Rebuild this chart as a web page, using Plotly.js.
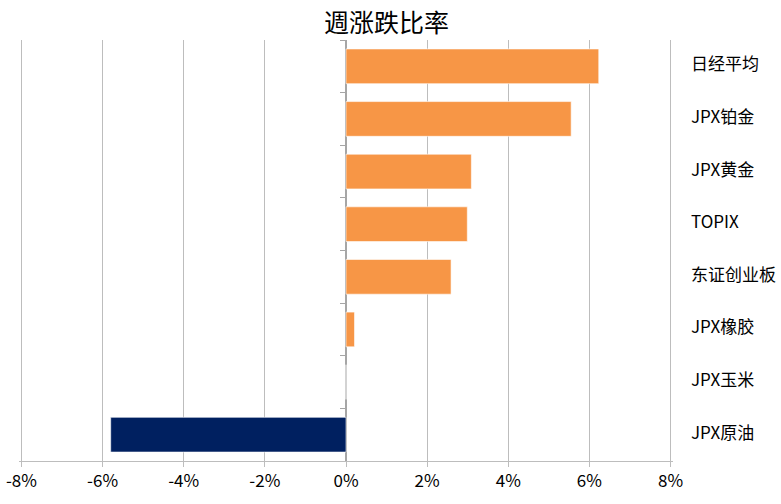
<!DOCTYPE html>
<html>
<head>
<meta charset="utf-8">
<script src="https://cdn.plot.ly/plotly-3.0.1.min.js"></script>
<style>
  html, body { margin: 0; padding: 0; background: #fff; }
  #chart { width: 781px; height: 504px; }
</style>
</head>
<body>
<div id="chart"></div>
<script>
// weekly change, top to bottom
var names = ['日经平均', 'JPX铂金', 'JPX黄金', 'TOPIX', '东证创业板', 'JPX橡胶', 'JPX玉米', 'JPX原油'];
var changes = [0.0623, 0.0555, 0.0309, 0.0299, 0.0259, 0.0021, 0.0, -0.0580];
var xTicks = [-0.08, -0.06, -0.04, -0.02, 0, 0.02, 0.04, 0.06, 0.08];
var xTickText = ['-8%', '-6%', '-4%', '-2%', '0%', '2%', '4%', '6%', '8%'];

var upColor = '#F79646';
var downColor = '#002060';

var barColors = changes.map(function (v) { return v < 0 ? downColor : upColor; });

var font = '"Noto Sans CJK SC", "Noto Sans", sans-serif';

var bars = {
  type: 'bar',
  orientation: 'h',
  x: changes,
  y: names,
  marker: {
    color: barColors,
    line: { color: '#ffffff', width: 0.6 }
  },
  hoverinfo: 'x+y'
};

// invisible helper so the category tick marks sit on the zero line
var tickHelper = {
  type: 'scatter',
  mode: 'markers',
  x: names.map(function () { return 0; }),
  y: names,
  yaxis: 'y2',
  marker: { opacity: 0 },
  hoverinfo: 'skip',
  showlegend: false
};

var layout = {
  width: 781,
  height: 504,
  paper_bgcolor: '#ffffff',
  plot_bgcolor: '#ffffff',
  margin: { l: 19, r: 108, t: 40, b: 43 },
  showlegend: false,
  bargap: 0.34,
  title: {
    text: '週涨跌比率',
    x: 0.495,
    xanchor: 'center',
    y: 0.953,
    yanchor: 'middle',
    font: { family: font, size: 25, color: '#000000' }
  },
  font: { family: font, size: 16, color: '#000000' },
  xaxis: {
    range: [-0.0806, 0.0806],
    tickvals: xTicks,
    ticktext: xTickText,
    showgrid: true,
    gridcolor: '#bdbdbd',
    gridwidth: 1,
    zeroline: true,
    zerolinecolor: '#a6a6a6',
    zerolinewidth: 1.5,
    showline: true,
    linecolor: '#bdbdbd',
    linewidth: 1,
    ticks: 'outside',
    ticklen: 5,
    tickcolor: '#bdbdbd',
    tickfont: { family: font, size: 17, color: '#000000' },
    fixedrange: true
  },
  yaxis: {
    type: 'category',
    categoryorder: 'array',
    categoryarray: names,
    range: [7.5, -0.5],
    side: 'right',
    showgrid: false,
    zeroline: false,
    showline: false,
    ticks: '',
    ticklabelstandoff: 17,
    ticklabelshift: 2,
    tickfont: { family: font, size: 17, color: '#000000' },
    fixedrange: true
  },
  yaxis2: {
    type: 'category',
    categoryorder: 'array',
    categoryarray: names,
    range: [7.5, -0.5],
    overlaying: 'y',
    anchor: 'free',
    position: 0.5,
    side: 'left',
    showgrid: false,
    zeroline: false,
    showline: false,
    showticklabels: false,
    ticks: 'outside',
    tickson: 'boundaries',
    ticklen: 6,
    tickcolor: '#a6a6a6',
    fixedrange: true
  }
};

Plotly.newPlot('chart', [bars, tickHelper], layout, { displayModeBar: false, staticPlot: true });
</script>
</body>
</html>
